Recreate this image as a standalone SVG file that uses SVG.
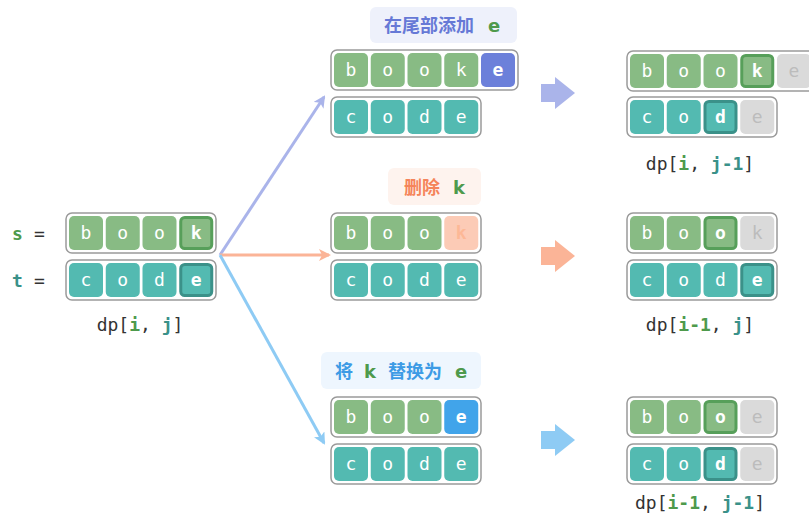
<svg xmlns="http://www.w3.org/2000/svg" width="809" height="519" viewBox="0 0 809 519">
<style>
.box{fill:#fff;stroke:#9a9a9a;stroke-width:1.5}
.g{fill:#88bb84}
.t{fill:#53bab1}
.gr{fill:#dadada}
.gh{fill:#88bb84;stroke:#579f5a;stroke-width:3}
.th{fill:#53bab1;stroke:#3b9189;stroke-width:3}
.c{font-family:"DejaVu Sans Mono",monospace;font-size:18px;fill:#fff;text-anchor:middle}
.b{font-weight:bold}
.gt{fill:#bcbcbc}
.lab{font-family:"Noto Sans CJK SC","Noto Sans",sans-serif;font-size:18px;font-weight:bold}
.dp{font-family:"DejaVu Sans Mono",monospace;font-size:18px;fill:#333;text-anchor:middle}
.gi{fill:#4e9a4c;font-weight:bold}
.tj{fill:#3a9189;font-weight:bold}
</style>
<defs>
<marker id="ma" viewBox="0 0 12 12" refX="10" refY="6" markerWidth="12" markerHeight="12" markerUnits="userSpaceOnUse" orient="auto"><path d="M0,0 L12,6 L0,12 L3,6 Z" fill="#aab4ea"/></marker>
<marker id="mb" viewBox="0 0 12 12" refX="10" refY="6" markerWidth="12" markerHeight="12" markerUnits="userSpaceOnUse" orient="auto"><path d="M0,0 L12,6 L0,12 L3,6 Z" fill="#fbb497"/></marker>
<marker id="mc" viewBox="0 0 12 12" refX="10" refY="6" markerWidth="12" markerHeight="12" markerUnits="userSpaceOnUse" orient="auto"><path d="M0,0 L12,6 L0,12 L3,6 Z" fill="#8ecbf4"/></marker>
</defs>
<rect width="809" height="519" fill="#fff"/>

<g id="connectors">
<line x1="220" y1="255" x2="324" y2="97" stroke="#aab4ea" stroke-width="3" marker-end="url(#ma)"/>
<line x1="220" y1="255" x2="329" y2="255" stroke="#fbb497" stroke-width="3" marker-end="url(#mb)"/>
<line x1="220" y1="255" x2="324" y2="443" stroke="#8ecbf4" stroke-width="3" marker-end="url(#mc)"/>
<polygon points="541,84 555,84 555,77 575,93 555,109 555,102 541,102" fill="#aab4ea"/>
<polygon points="541,247 555,247 555,240 575,256 555,272 555,265 541,265" fill="#fbb497"/>
<polygon points="541,431 555,431 555,424 575,440 555,456 555,449 541,449" fill="#8ecbf4"/>
</g>

<g id="start">
<text x="12" y="240" style="font-family:'DejaVu Sans Mono',monospace;font-size:18px;font-weight:bold;fill:#4e9a4c">s</text>
<text x="34" y="240" style="font-family:'DejaVu Sans Mono',monospace;font-size:18px;fill:#333">=</text>
<text x="12" y="287" style="font-family:'DejaVu Sans Mono',monospace;font-size:18px;font-weight:bold;fill:#3a9189">t</text>
<text x="34" y="287" style="font-family:'DejaVu Sans Mono',monospace;font-size:18px;fill:#333">=</text>
<rect class="box" x="66" y="213" width="150" height="40" rx="6"/>
<rect class="g" x="69" y="216" width="34" height="34" rx="5"/>
<rect class="g" x="105.75" y="216" width="34" height="34" rx="5"/>
<rect class="g" x="142.5" y="216" width="34" height="34" rx="5"/>
<rect class="gh" x="180.75" y="217.5" width="31" height="31" rx="4"/>
<text class="c" x="86" y="239">b</text><text class="c" x="122.75" y="239">o</text><text class="c" x="159.5" y="239">o</text><text class="c b" x="196.25" y="239">k</text>
<rect class="box" x="66" y="260" width="150" height="40" rx="6"/>
<rect class="t" x="69" y="263" width="34" height="34" rx="5"/>
<rect class="t" x="105.75" y="263" width="34" height="34" rx="5"/>
<rect class="t" x="142.5" y="263" width="34" height="34" rx="5"/>
<rect class="th" x="180.75" y="264.5" width="31" height="31" rx="4"/>
<text class="c" x="86" y="286">c</text><text class="c" x="122.75" y="286">o</text><text class="c" x="159.5" y="286">d</text><text class="c b" x="196.25" y="286">e</text>
<text class="dp" x="140" y="331">dp[<tspan class="gi">i</tspan>, <tspan class="tj">j</tspan>]</text>
</g>

<g id="insert">
<rect x="370" y="7" width="147" height="36" rx="6" fill="#eef1fb"/>
<text class="lab" x="384" y="32" fill="#6679d6">在尾部添加</text>
<text class="lab" x="488" y="32" fill="#4e9a4c" style="font-family:'DejaVu Sans',sans-serif">e</text>
<rect class="box" x="331" y="50" width="187" height="40" rx="6"/>
<rect class="g" x="334" y="53" width="34" height="34" rx="5"/>
<rect class="g" x="370.75" y="53" width="34" height="34" rx="5"/>
<rect class="g" x="407.5" y="53" width="34" height="34" rx="5"/>
<rect class="g" x="444.25" y="53" width="34" height="34" rx="5"/>
<rect x="481" y="53" width="34" height="34" rx="5" fill="#6c80da"/>
<text class="c" x="351" y="76">b</text><text class="c" x="387.75" y="76">o</text><text class="c" x="424.5" y="76">o</text><text class="c" x="461.25" y="76">k</text><text class="c b" x="498" y="76">e</text>
<rect class="box" x="331" y="97" width="150" height="40" rx="6"/>
<rect class="t" x="334" y="100" width="34" height="34" rx="5"/>
<rect class="t" x="370.75" y="100" width="34" height="34" rx="5"/>
<rect class="t" x="407.5" y="100" width="34" height="34" rx="5"/>
<rect class="t" x="444.25" y="100" width="34" height="34" rx="5"/>
<text class="c" x="351" y="123">c</text><text class="c" x="387.75" y="123">o</text><text class="c" x="424.5" y="123">d</text><text class="c" x="461.25" y="123">e</text>
</g>

<g id="delete">
<rect x="388" y="168" width="93" height="37" rx="6" fill="#fef3ee"/>
<text class="lab" x="404" y="194" fill="#f5845a">删除</text>
<text class="lab" x="453" y="194" fill="#4e9a4c" style="font-family:'DejaVu Sans',sans-serif">k</text>
<rect class="box" x="331" y="213" width="150" height="40" rx="6"/>
<rect class="g" x="334" y="216" width="34" height="34" rx="5"/>
<rect class="g" x="370.75" y="216" width="34" height="34" rx="5"/>
<rect class="g" x="407.5" y="216" width="34" height="34" rx="5"/>
<rect x="444.25" y="216" width="34" height="34" rx="5" fill="#fccbb6"/>
<text class="c" x="351" y="239">b</text><text class="c" x="387.75" y="239">o</text><text class="c" x="424.5" y="239">o</text><text class="c b" x="461.25" y="239" style="fill:#fdb896">k</text>
<rect class="box" x="331" y="260" width="150" height="40" rx="6"/>
<rect class="t" x="334" y="263" width="34" height="34" rx="5"/>
<rect class="t" x="370.75" y="263" width="34" height="34" rx="5"/>
<rect class="t" x="407.5" y="263" width="34" height="34" rx="5"/>
<rect class="t" x="444.25" y="263" width="34" height="34" rx="5"/>
<text class="c" x="351" y="286">c</text><text class="c" x="387.75" y="286">o</text><text class="c" x="424.5" y="286">d</text><text class="c" x="461.25" y="286">e</text>
</g>

<g id="replace">
<rect x="321" y="352" width="160" height="37" rx="6" fill="#eef6fe"/>
<text class="lab" x="335" y="378" fill="#3d9be5">将</text>
<text class="lab" x="364" y="378" fill="#4e9a4c" style="font-family:'DejaVu Sans',sans-serif">k</text>
<text class="lab" x="388" y="378" fill="#3d9be5">替换为</text>
<text class="lab" x="455" y="378" fill="#4e9a4c" style="font-family:'DejaVu Sans',sans-serif">e</text>
<rect class="box" x="331" y="397" width="150" height="40" rx="6"/>
<rect class="g" x="334" y="400" width="34" height="34" rx="5"/>
<rect class="g" x="370.75" y="400" width="34" height="34" rx="5"/>
<rect class="g" x="407.5" y="400" width="34" height="34" rx="5"/>
<rect x="444.25" y="400" width="34" height="34" rx="5" fill="#41a4ea"/>
<text class="c" x="351" y="423">b</text><text class="c" x="387.75" y="423">o</text><text class="c" x="424.5" y="423">o</text><text class="c b" x="461.25" y="423">e</text>
<rect class="box" x="331" y="444" width="150" height="40" rx="6"/>
<rect class="t" x="334" y="447" width="34" height="34" rx="5"/>
<rect class="t" x="370.75" y="447" width="34" height="34" rx="5"/>
<rect class="t" x="407.5" y="447" width="34" height="34" rx="5"/>
<rect class="t" x="444.25" y="447" width="34" height="34" rx="5"/>
<text class="c" x="351" y="470">c</text><text class="c" x="387.75" y="470">o</text><text class="c" x="424.5" y="470">d</text><text class="c" x="461.25" y="470">e</text>
</g>

<g id="result-insert">
<rect class="box" x="627" y="51" width="187" height="40" rx="6"/>
<rect class="g" x="630" y="54" width="34" height="34" rx="5"/>
<rect class="g" x="666.75" y="54" width="34" height="34" rx="5"/>
<rect class="g" x="703.5" y="54" width="34" height="34" rx="5"/>
<rect class="gh" x="741.75" y="55.5" width="31" height="31" rx="4"/>
<rect class="gr" x="777" y="54" width="34" height="34" rx="5"/>
<text class="c" x="647" y="77">b</text><text class="c" x="683.75" y="77">o</text><text class="c" x="720.5" y="77">o</text><text class="c b" x="757.25" y="77">k</text><text class="c gt" x="794" y="77">e</text>
<rect class="box" x="627" y="97" width="150" height="40" rx="6"/>
<rect class="t" x="630" y="100" width="34" height="34" rx="5"/>
<rect class="t" x="666.75" y="100" width="34" height="34" rx="5"/>
<rect class="th" x="705" y="101.5" width="31" height="31" rx="4"/>
<rect class="gr" x="740.25" y="100" width="34" height="34" rx="5"/>
<text class="c" x="647" y="123">c</text><text class="c" x="683.75" y="123">o</text><text class="c b" x="720.5" y="123">d</text><text class="c gt" x="757.25" y="123">e</text>
<text class="dp" x="700" y="170">dp[<tspan class="gi">i</tspan>, <tspan class="tj">j-1</tspan>]</text>
</g>

<g id="result-delete">
<rect class="box" x="627" y="213" width="150" height="40" rx="6"/>
<rect class="g" x="630" y="216" width="34" height="34" rx="5"/>
<rect class="g" x="666.75" y="216" width="34" height="34" rx="5"/>
<rect class="gh" x="705" y="217.5" width="31" height="31" rx="4"/>
<rect class="gr" x="740.25" y="216" width="34" height="34" rx="5"/>
<text class="c" x="647" y="239">b</text><text class="c" x="683.75" y="239">o</text><text class="c b" x="720.5" y="239">o</text><text class="c gt" x="757.25" y="239">k</text>
<rect class="box" x="627" y="260" width="150" height="40" rx="6"/>
<rect class="t" x="630" y="263" width="34" height="34" rx="5"/>
<rect class="t" x="666.75" y="263" width="34" height="34" rx="5"/>
<rect class="t" x="703.5" y="263" width="34" height="34" rx="5"/>
<rect class="th" x="741.75" y="264.5" width="31" height="31" rx="4"/>
<text class="c" x="647" y="286">c</text><text class="c" x="683.75" y="286">o</text><text class="c" x="720.5" y="286">d</text><text class="c b" x="757.25" y="286">e</text>
<text class="dp" x="700" y="331">dp[<tspan class="gi">i-1</tspan>, <tspan class="tj">j</tspan>]</text>
</g>

<g id="result-replace">
<rect class="box" x="627" y="397" width="150" height="40" rx="6"/>
<rect class="g" x="630" y="400" width="34" height="34" rx="5"/>
<rect class="g" x="666.75" y="400" width="34" height="34" rx="5"/>
<rect class="gh" x="705" y="401.5" width="31" height="31" rx="4"/>
<rect class="gr" x="740.25" y="400" width="34" height="34" rx="5"/>
<text class="c" x="647" y="423">b</text><text class="c" x="683.75" y="423">o</text><text class="c b" x="720.5" y="423">o</text><text class="c gt" x="757.25" y="423">e</text>
<rect class="box" x="627" y="444" width="150" height="40" rx="6"/>
<rect class="t" x="630" y="447" width="34" height="34" rx="5"/>
<rect class="t" x="666.75" y="447" width="34" height="34" rx="5"/>
<rect class="th" x="705" y="448.5" width="31" height="31" rx="4"/>
<rect class="gr" x="740.25" y="447" width="34" height="34" rx="5"/>
<text class="c" x="647" y="470">c</text><text class="c" x="683.75" y="470">o</text><text class="c b" x="720.5" y="470">d</text><text class="c gt" x="757.25" y="470">e</text>
<text class="dp" x="700" y="509">dp[<tspan class="gi">i-1</tspan>, <tspan class="tj">j-1</tspan>]</text>
</g>
</svg>
